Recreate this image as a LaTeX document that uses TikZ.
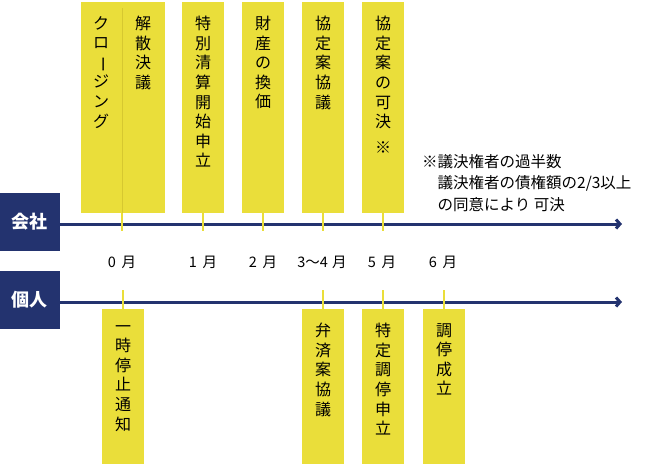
\documentclass[tikz,border=0pt]{standalone}
\usepackage{fontspec}
\usepackage{xcolor}
\usepackage{graphicx}
\usepackage{tikz}
\usetikzlibrary{arrows.meta,positioning}
\newfontfamily\jpfont{Noto Sans CJK JP}
\definecolor{barcol}{HTML}{EADE3A}
\definecolor{navy}{HTML}{23336F}
\definecolor{divcol}{HTML}{D6C830}

\begin{document}
\begin{tikzpicture}[x=1pt,y=-1pt,
    topbar/.style={fill=barcol, minimum width=42pt, minimum height=211pt, inner sep=0, anchor=north},
    botbar/.style={fill=barcol, minimum width=42pt, minimum height=155pt, inner sep=0, anchor=north},
    vtext/.style={align=center, inner sep=0, anchor=north, text=black, font=\jpfont\fontsize{16}{19.6}\selectfont},
    tag/.style={fill=navy, minimum width=60pt, minimum height=58pt, inner sep=0, text=white, font=\jpfont\bfseries\fontsize{18}{20}\selectfont},
    month/.style={inner sep=0, text=black, font=\jpfont\fontsize{14.5}{16}\selectfont},
    note/.style={align=left, inner sep=0, anchor=north west, text=black, font=\jpfont\fontsize{15.5}{21.5}\selectfont},
    axis/.style={navy, line width=3pt, -{Straight Barb[length=4pt,width=9pt]}},
    tick/.style={barcol, line width=2pt},
    divider/.style={divcol, line width=1pt}]
                        \useasboundingbox (0,0) rectangle (666,466);
                        % company side
                        \node[topbar, minimum width=84pt] (b0) at (123,2) {};
                        \node[topbar] (b1) at (203,2) {};
                        \node[topbar] (b2) at (263,2) {};
                        \node[topbar] (b3) at (323,2) {};
                        \node[topbar] (b4) at (383,2) {};
                        \node[vtext] (t0a) at (101,16) {ク\\ロ\\\rotatebox[origin=c]{-90}{ー}\\ジ\\ン\\グ};
                        \node[vtext] (t0b) at (143,16) {解\\散\\決\\議};
                        \node[vtext] (t1) at (203,16) {特\\別\\清\\算\\開\\始\\申\\立};
                        \node[vtext] (t2) at (263,16) {財\\産\\の\\換\\価};
                        \node[vtext] (t3) at (323,16) {協\\定\\案\\協\\議};
                        \node[vtext] (t4) at (383,16) {協\\定\\案\\の\\可\\決\\[6pt]※};
                        \node[note] (memo) at (422,154) {※議決権者の過半数\\\hspace{1em}議決権者の債権額の2/3以上\\\hspace{1em}の同意により 可決};
                        \node[tag] (kaisha) at (30,222) {会社};
                        \coordinate (endA) at (622,224);
                        \draw[axis] (kaisha.east |- endA) -- (endA);
                        \coordinate (d0) at (122,8);
                        \coordinate (a0) at (122,231);
                        \coordinate (a1) at (203,231);
                        \coordinate (a2) at (263,231);
                        \coordinate (a3) at (323,231);
                        \coordinate (a4) at (383,231);
                        \draw[divider] (d0) -- (b0.south -| d0);
                        \draw[tick] (b0.south -| d0) -- (a0);
                        \draw[tick] (b1) -- (a1);
                        \draw[tick] (b2.south) -- (a2);
                        \draw[tick] (b3.south) -- (a3);
                        \draw[tick] (b4.south) -- (a4);
                        % months
                        \node[month] (m0) at (122,262) {0\hspace{0.4em}月};
                        \node[month] (m1) at (203,262) {1\hspace{0.4em}月};
                        \node[month] (m2) at (263,262) {2\hspace{0.4em}月};
                        \node[month] (m3) at (322,262) {3～4\hspace{0.3em}月};
                        \node[month] (m5) at (382,262) {5\hspace{0.4em}月};
                        \node[month] (m6) at (443,262) {6\hspace{0.4em}月};
                        % personal side
                        \node[tag] (kojin) at (30,300) {個人};
                        \coordinate (endB) at (622,302);
                        \draw[axis] (kojin.east |- endB) -- (endB);
                        \node[botbar] (c0) at (123,309) {};
                        \node[botbar] (c3) at (323,309) {};
                        \node[botbar] (c4) at (383,309) {};
                        \node[botbar] (c5) at (444,309) {};
                        \node[vtext] (s0) at (123,325) {一\\時\\停\\止\\通\\知};
                        \node[vtext] (s3) at (323,323) {弁\\済\\案\\協\\議};
                        \node[vtext] (s4) at (383,323) {特\\定\\調\\停\\申\\立};
                        \node[vtext] (s5) at (444,323) {調\\停\\成\\立};
                        \coordinate (p0) at (123,290);
                        \coordinate (p3) at (323,290);
                        \coordinate (p4) at (383,290);
                        \coordinate (p5) at (444,290);
                        \draw[tick] (p0) -- (c0.north);
                        \draw[tick] (p3) -- (c3.north);
                        \draw[tick] (p4) -- (c4.north);
                        \draw[tick] (p5) -- (c5.north);
                        \end{tikzpicture}
\end{document}
